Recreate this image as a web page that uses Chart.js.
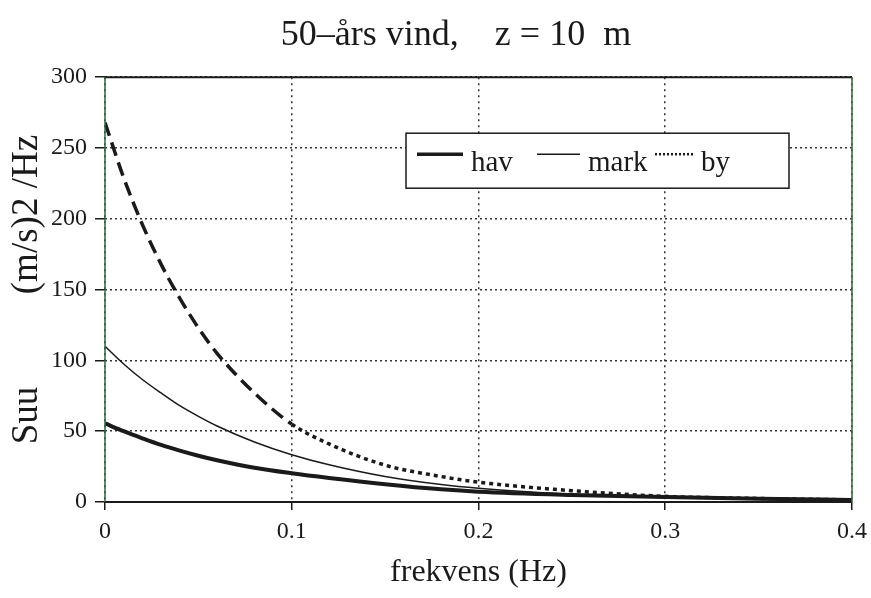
<!DOCTYPE html>
<html>
<head>
<meta charset="utf-8">
<script src="https://cdn.jsdelivr.net/npm/chart.js@4"></script>
<style>
  html, body { margin: 0; padding: 0; background: #fff; }
  #wrap { width: 871px; height: 598px; }
</style>
</head>
<body>
<div id="wrap"><canvas id="windChart" width="871" height="598"></canvas></div>
<script>
// frequency (Hz) and spectra
const freq = [0, 0.01, 0.02, 0.03, 0.04, 0.05, 0.06, 0.08, 0.10, 0.12, 0.15, 0.18, 0.20, 0.25, 0.30, 0.35, 0.40];
const havValues = [55.5, 50, 45, 40.3, 36.3, 32.7, 29.5, 24.2, 20.3, 17, 12.6, 9, 7.3, 5, 3.5, 2.3, 1.5];
const markValues = [110, 97.5, 86.5, 77, 68, 60.5, 53.7, 42.4, 33.4, 26.3, 18, 12.3, 9.7, 5.5, 3.2, 2.2, 1.5];
const byValues = [268, 229, 196, 168, 144, 123, 105, 77, 55, 41, 26, 18, 14, 8, 4, 2.5, 1.5];

const seriesLabels = ['hav', 'mark', 'by'];
const xTicks = [0, 0.1, 0.2, 0.3, 0.4];
const yTicks = [0, 50, 100, 150, 200, 250, 300];

const chartTitle = '50–års vind,    z = 10  m     ';
const xTitle = 'frekvens (Hz)';
const yTitle = 'Suu          (m/s)2 /Hz';

const serif = "'Liberation Serif', 'Times New Roman', serif";
const ink = '#1a1a1a';

function toPoints(values) {
  const pts = [];
  for (let i = 0; i < freq.length; i++) {
    pts.push({ x: freq[i], y: values[i] });
  }
  return pts;
}

// solid box round the plot area
const framePlugin = {
  id: 'frame',
  afterDatasetsDraw(chart) {
    const a = chart.chartArea;
    const ctx = chart.ctx;
    ctx.save();
    ctx.lineWidth = 2;
    ctx.strokeStyle = ink;
    ctx.beginPath();
    ctx.moveTo(a.left, a.top);
    ctx.lineTo(a.right, a.top);
    ctx.moveTo(a.left, a.bottom);
    ctx.lineTo(a.right, a.bottom);
    ctx.stroke();
    ctx.lineWidth = 1.5;
    ctx.strokeStyle = '#2f6b3a';
    ctx.beginPath();
    ctx.moveTo(a.left, a.top);
    ctx.lineTo(a.left, a.bottom);
    ctx.moveTo(a.right, a.top);
    ctx.lineTo(a.right, a.bottom);
    ctx.stroke();
    ctx.restore();
  }
};

// boxed legend inside the plot, like the original
const boxLegend = {
  id: 'boxLegend',
  afterDatasetsDraw(chart) {
    const a = chart.chartArea;
    const ctx = chart.ctx;
    const left = a.left + 301;
    const top = a.top + 56;
    const w = 383;
    const h = 55;

    ctx.save();
    ctx.fillStyle = '#fff';
    ctx.fillRect(left, top, w, h);
    ctx.lineWidth = 1.5;
    ctx.strokeStyle = ink;
    ctx.strokeRect(left, top, w, h);

    const lineY = top + 21;
    const textY = top + 38;
    const items = [
      { x: left + 11, len: 46, width: 3.5, dash: [], label: seriesLabels[0] },
      { x: left + 131, len: 43, width: 1.5, dash: [], label: seriesLabels[1] },
      { x: left + 249, len: 38, width: 2.5, dash: [2, 2], label: seriesLabels[2] }
    ];

    ctx.font = '29px ' + serif;
    ctx.fillStyle = ink;
    ctx.textBaseline = 'alphabetic';
    items.forEach(function (it) {
      ctx.lineWidth = it.width;
      ctx.setLineDash(it.dash);
      ctx.beginPath();
      ctx.moveTo(it.x, lineY);
      ctx.lineTo(it.x + it.len, lineY);
      ctx.stroke();
      ctx.setLineDash([]);
      ctx.fillText(it.label, it.x + it.len + 8, textY);
    });
    ctx.restore();
  }
};

const ctx = document.getElementById('windChart').getContext('2d');

new Chart(ctx, {
  type: 'line',
  data: {
    datasets: [
      {
        label: seriesLabels[0],
        data: toPoints(havValues),
        borderColor: ink,
        borderWidth: 4,
        pointRadius: 0,
        cubicInterpolationMode: 'monotone'
      },
      {
        label: seriesLabels[1],
        data: toPoints(markValues),
        borderColor: ink,
        borderWidth: 1.5,
        pointRadius: 0,
        cubicInterpolationMode: 'monotone'
      },
      {
        label: seriesLabels[2],
        data: toPoints(byValues),
        borderColor: ink,
        borderWidth: 3.5,
        pointRadius: 0,
        cubicInterpolationMode: 'monotone',
        segment: {
          borderDash: function (c) {
            return c.p0.parsed.x < 0.1 ? [14, 7] : [4, 4];
          }
        }
      }
    ]
  },
  options: {
    responsive: false,
    animation: false,
    layout: {
      padding: { left: 0, right: 19, top: 0, bottom: 6 }
    },
    plugins: {
      legend: { display: false },
      tooltip: { enabled: false },
      title: {
        display: true,
        text: chartTitle,
        fullSize: false,
        color: ink,
        font: { family: serif, size: 36, weight: 'normal' },
        padding: { top: 14, bottom: 20 }
      }
    },
    scales: {
      x: {
        type: 'linear',
        min: 0,
        max: 0.4,
        afterBuildTicks: function (scale) {
          scale.ticks = xTicks.map(function (v) { return { value: v }; });
        },
        afterFit: function (scale) {
          scale.height = 90;
          scale.paddingRight = 0;
        },
        ticks: {
          color: ink,
          padding: 7,
          font: { family: serif, size: 24 },
          callback: function (v) { return v === 0 ? '0' : v.toFixed(1); }
        },
        grid: {
          color: '#333',
          lineWidth: 1.5,
          tickLength: 8,
          tickColor: ink,
          tickWidth: 1.5,
          tickBorderDash: []
        },
        border: { display: false, dash: [2, 4] },
        title: {
          display: true,
          text: xTitle,
          color: ink,
          font: { family: serif, size: 32 },
          padding: 0
        }
      },
      y: {
        min: 0,
        max: 300,
        afterBuildTicks: function (scale) {
          scale.ticks = yTicks.map(function (v) { return { value: v }; });
        },
        afterFit: function (scale) {
          scale.width = 105;
        },
        ticks: {
          color: ink,
          padding: 8,
          font: { family: serif, size: 24 }
        },
        grid: {
          color: '#333',
          lineWidth: 1.5,
          tickLength: 10,
          tickColor: ink,
          tickWidth: 1.5,
          tickBorderDash: []
        },
        border: { display: false, dash: [2, 3] },
        title: {
          display: true,
          text: yTitle,
          color: ink,
          font: { family: serif, size: 37 },
          padding: 5
        }
      }
    }
  },
  plugins: [boxLegend, framePlugin]
});
</script>
</body>
</html>
